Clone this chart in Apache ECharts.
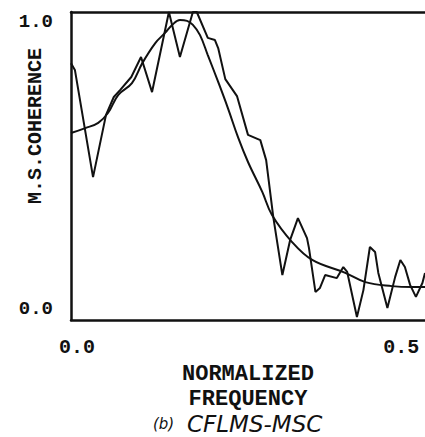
<!DOCTYPE html>
<html>
<head>
<meta charset="utf-8">
<script src="https://cdn.jsdelivr.net/npm/echarts@6/dist/echarts.min.js"></script>
<style>html,body{margin:0;padding:0;background:#fff}#c{width:425px;height:437px}</style>
</head>
<body>
<div id="c"></div>
<script>
// Estimated MSC (jagged) curve
var freqJagged = [0, 0.006, 0.034, 0.054, 0.066, 0.076, 0.093, 0.108, 0.125, 0.151, 0.168, 0.188, 0.194, 0.211, 0.222, 0.227, 0.238, 0.256, 0.273, 0.292, 0.301, 0.312, 0.326, 0.338, 0.350, 0.364, 0.367, 0.377, 0.384, 0.392, 0.410, 0.420, 0.426, 0.441, 0.451, 0.461, 0.469, 0.474, 0.488, 0.500, 0.508, 0.515, 0.523, 0.532, 0.542, 0.546];
var cohJagged  = [0.834, 0.812, 0.464, 0.666, 0.724, 0.747, 0.789, 0.854, 0.740, 1.0, 0.854, 1.0, 1.0, 0.916, 0.909, 0.883, 0.782, 0.727, 0.601, 0.584, 0.519, 0.334, 0.146, 0.260, 0.331, 0.266, 0.234, 0.091, 0.104, 0.146, 0.136, 0.172, 0.156, 0.010, 0.097, 0.237, 0.221, 0.153, 0.039, 0.140, 0.195, 0.172, 0.114, 0.075, 0.120, 0.153];
// True (smooth) MSC curve
var freqSmooth = [0, 0.022, 0.042, 0.057, 0.073, 0.094, 0.110, 0.130, 0.145, 0.156, 0.168, 0.179, 0.188, 0.199, 0.211, 0.227, 0.242, 0.258, 0.273, 0.295, 0.310, 0.341, 0.372, 0.423, 0.454, 0.495, 0.526, 0.546];
var cohSmooth  = [0.607, 0.623, 0.640, 0.672, 0.731, 0.769, 0.834, 0.899, 0.932, 0.958, 0.974, 0.971, 0.958, 0.925, 0.860, 0.773, 0.688, 0.591, 0.513, 0.416, 0.341, 0.253, 0.195, 0.153, 0.123, 0.110, 0.107, 0.107];
var xTickLabels = {0: '0.0', 0.5: '0.5'};
var yTickLabels = {0: '0.0', 1: '1.0'};
var xName = 'NORMALIZED\nFREQUENCY';
var yName = 'M.S.COHERENCE';
var caption = '(b)';
var captionMain = 'CFLMS-MSC';

var mono = '"Liberation Mono", "DejaVu Sans Mono", monospace';
var ink = '#111';
var chart = echarts.init(document.getElementById('c'), null, {renderer: 'svg'});
chart.setOption({
  animation: false,
  backgroundColor: '#fff',
  grid: {left: 71, top: 12, right: 0, bottom: 117, containLabel: false, outerBoundsMode: 'none'},
  title: {
    text: '{a|' + caption + '}{b|' + captionMain + '}',
    left: 153, top: 413, padding: 0,
    textStyle: {
      fontWeight: 'normal',
      rich: {
        a: {fontFamily: '"DejaVu Sans", sans-serif', fontStyle: 'italic', fontWeight: 'normal', fontSize: 15, color: ink, width: 34, lineHeight: 22},
        b: {fontFamily: '"DejaVu Sans", sans-serif', fontStyle: 'italic', fontWeight: 'normal', fontSize: 23, color: ink, lineHeight: 22}
      }
    }
  },
  graphic: [{
    type: 'text', x: 35, y: 126, rotation: Math.PI / 2,
    style: {text: yName, fontFamily: mono, fontWeight: 'bold', fontSize: 20, fill: ink, align: 'center', verticalAlign: 'middle'}
  }],
  xAxis: [{
    type: 'value', min: 0, max: 0.546, interval: 0.5,
    position: 'bottom',
    name: xName, nameLocation: 'middle', nameGap: 38,
    nameTextStyle: {fontFamily: mono, fontWeight: 'bold', fontSize: 22, color: ink, lineHeight: 25},
    axisLine: {show: true, lineStyle: {color: ink, width: 2.5}},
    axisTick: {show: false},
    splitLine: {show: false},
    axisLabel: {
      showMaxLabel: false, margin: 17, padding: [0, 0, 0, 12],
      fontFamily: mono, fontWeight: 'bold', fontSize: 20, color: ink,
      formatter: function (v) { return xTickLabels[v] || ''; }
    }
  }, {
    type: 'value', min: 0, max: 0.546, position: 'top',
    axisLine: {show: true, onZero: false, lineStyle: {color: ink, width: 2.5}},
    axisTick: {show: false}, axisLabel: {show: false}, splitLine: {show: false}
  }],
  yAxis: {
    type: 'value', min: 0, max: 1, interval: 1,
    axisLine: {show: true, lineStyle: {color: ink, width: 2.5}},
    axisTick: {show: false},
    splitLine: {show: false},
    axisLabel: {
      margin: 18,
      formatter: function (v) { return v === 1 ? '{t|' + yTickLabels[1] + '}' : '{b|' + yTickLabels[0] + '}'; },
      rich: {
        t: {fontFamily: mono, fontWeight: 'bold', fontSize: 19, color: ink, padding: [20, 0, 0, 0]},
        b: {fontFamily: mono, fontWeight: 'bold', fontSize: 19, color: ink, padding: [0, 0, 22, 0]}
      }
    }
  },
  series: [{
    type: 'line', name: 'estimate', showSymbol: false, symbol: 'none', clip: true,
    lineStyle: {color: ink, width: 2},
    data: freqJagged.map(function (f, i) { return [f, cohJagged[i]]; })
  }, {
    type: 'line', name: 'true', showSymbol: false, symbol: 'none', clip: true, smooth: 0.4,
    lineStyle: {color: ink, width: 2},
    data: freqSmooth.map(function (f, i) { return [f, cohSmooth[i]]; })
  }]
});
</script>
</body>
</html>
